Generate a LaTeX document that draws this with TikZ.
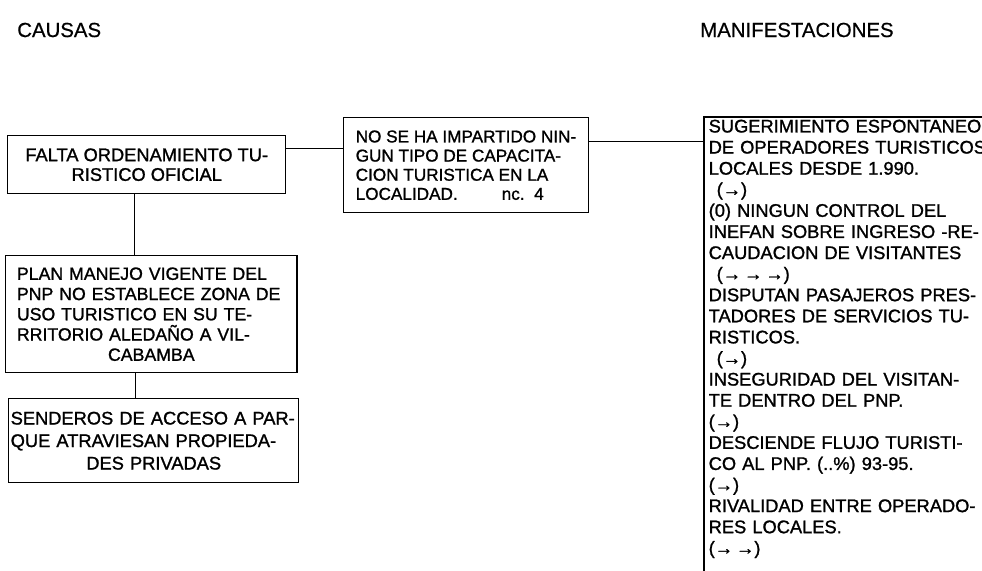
\documentclass[tikz,border=0pt]{standalone}
\usepackage{fontspec}
\setmainfont{Liberation Sans}
\newfontfamily\boxfont[FakeBold=1.2]{Liberation Sans}
\newfontfamily\headfont[FakeBold=0.6]{Liberation Sans}
\tikzset{
  title/.style={anchor=west, inner sep=0pt, font=\headfont\fontsize{14.5}{17}\selectfont},
  causebox/.style={draw, line width=1pt, anchor=north west, align=left,
    inner xsep=0.3cm, inner ysep=0pt, font=\boxfont\fontsize{13}{14}\selectfont},
  link/.style={line width=1pt}
}
\newcommand{\midline}[1]{\hfill#1\hfill\null}
\begin{document}
\begin{tikzpicture}[x=0.025cm,y=-0.025cm]
\useasboundingbox (0,0) rectangle (982,571);

% titles
\node[title] (causas) at (17,30) {CAUSAS};
\node[title] (manif) at (700,30) {MANIFESTACIONES};

% causes
\node[causebox, align=center, minimum width=6.95cm, minimum height=1.45cm] (falta) at (7,135)
  {FALTA ORDENAMIENTO TU-\\RISTICO OFICIAL};
\node[causebox, minimum width=6cm, minimum height=2.375cm,
  font=\boxfont\fontsize{12.2}{13.6}\selectfont] (capac) at (343,117)
  {NO SE HA IMPARTIDO NIN-\\GUN TIPO DE CAPACITA-\\CION TURISTICA EN LA\\LOCALIDAD.\hspace{1.1cm}nc.\ \ 4};
\node[causebox, text width=6.72cm, inner xsep=0.28cm, minimum height=2.925cm,
  font=\boxfont\fontsize{12.6}{14.4}\selectfont] (plan) at (5,255)
  {PLAN MANEJO VIGENTE DEL\\PNP NO ESTABLECE ZONA DE\\USO TURISTICO EN SU TE-\\RRITORIO ALEDAÑO A VIL-\\ \midline{CABAMBA}};
\node[causebox, text width=7.15cm, inner xsep=0.05cm, minimum height=2.1cm,
  font=\boxfont\fontsize{13}{16}\selectfont] (send) at (8,398)
  {SENDEROS DE ACCESO A PAR-\\QUE ATRAVIESAN PROPIEDA-\\ \midline{DES PRIVADAS}};

% manifestations (box runs off the page)
\node[causebox, draw=none, text width=9cm, inner xsep=0.1cm, inner ysep=0.05cm,
  font=\boxfont\fontsize{13}{15}\selectfont] (efectos) at (704,117) {%
  SUGERIMIENTO ESPONTANEO\\DE OPERADORES TURISTICOS\\LOCALES DESDE 1.990.\\
  \hspace{0.2cm}(→)\\(0) NINGUN CONTROL DEL\\INEFAN SOBRE INGRESO -RE-\\CAUDACION DE VISITANTES\\
  \hspace{0.2cm}(→\,→\,→)\\DISPUTAN PASAJEROS PRES-\\TADORES DE SERVICIOS TU-\\RISTICOS.\\
  \hspace{0.2cm}(→)\\INSEGURIDAD DEL VISITAN-\\TE DENTRO DEL PNP.\\(→)\\
  DESCIENDE FLUJO TURISTI-\\CO AL PNP. (..\%) 93-95.\\(→)\\
  RIVALIDAD ENTRE OPERADO-\\RES LOCALES.\\(→\,→)};
\draw[link] (efectos.north east) -- (efectos.north west) -- ++(0,480);

% links
\draw[link] ([yshift=0.4cm]falta.east) -- ([yshift=0.4cm]falta.east -| capac.west);
\draw[link] ([yshift=0.6cm]capac.east) -- ([yshift=0.6cm]capac.east -| efectos.west);
\draw[link] ([xshift=-0.3cm]falta.south) -- ([xshift=-0.3cm]falta.south |- plan.north);
\draw[link] ([xshift=-0.4cm]plan.south) -- ([xshift=-0.4cm]plan.south |- send.north);
\end{tikzpicture}
\end{document}
